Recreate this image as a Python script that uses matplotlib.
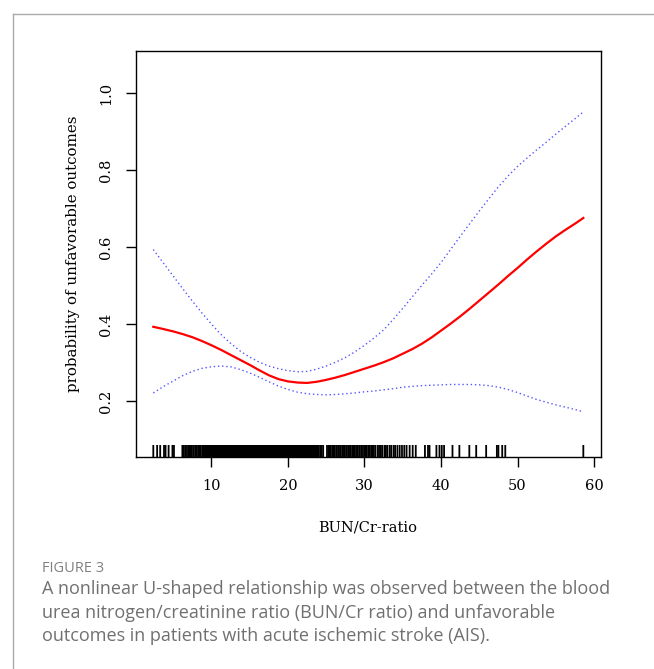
import numpy as np
import matplotlib
matplotlib.use("Agg")
import matplotlib.pyplot as plt

# ---------------------------------------------------------
# Data
# ---------------------------------------------------------
bun_cr = [2.4, 3.75, 5.0, 6.25, 7.5, 8.75, 10.0, 11.25, 12.5, 13.75, 15.0,
          16.25, 17.5, 18.75, 20.0, 21.25, 22.5, 23.75, 25.0, 26.25, 27.5,
          28.75, 30.0, 31.25, 32.5, 33.75, 35.0, 36.25, 37.5, 38.75, 40.0,
          41.25, 42.5, 43.75, 45.0, 46.25, 47.5, 48.75, 50.0, 51.25, 52.5,
          53.75, 55.0, 56.25, 57.5, 58.6]
prob_fit = [0.393, 0.387, 0.381, 0.374, 0.366, 0.356, 0.345, 0.333, 0.320,
            0.307, 0.294, 0.280, 0.267, 0.257, 0.251, 0.248, 0.247, 0.250,
            0.255, 0.261, 0.268, 0.276, 0.284, 0.292, 0.301, 0.311, 0.323,
            0.335, 0.349, 0.365, 0.383, 0.401, 0.420, 0.440, 0.461, 0.482,
            0.503, 0.525, 0.546, 0.568, 0.589, 0.609, 0.628, 0.645, 0.661,
            0.676]
ci_upper = [0.594, 0.558, 0.525, 0.492, 0.460, 0.429, 0.400, 0.373, 0.350,
            0.330, 0.314, 0.301, 0.291, 0.284, 0.279, 0.276, 0.277, 0.283,
            0.291, 0.301, 0.313, 0.328, 0.345, 0.364, 0.385, 0.412, 0.441,
            0.471, 0.501, 0.530, 0.560, 0.594, 0.628, 0.661, 0.694, 0.726,
            0.757, 0.785, 0.810, 0.832, 0.853, 0.873, 0.894, 0.914, 0.934,
            0.952]
ci_lower = [0.221, 0.238, 0.252, 0.266, 0.277, 0.285, 0.289, 0.291, 0.289,
            0.282, 0.273, 0.262, 0.250, 0.239, 0.230, 0.223, 0.219, 0.217,
            0.216, 0.217, 0.219, 0.221, 0.224, 0.226, 0.229, 0.232, 0.236,
            0.238, 0.240, 0.241, 0.242, 0.243, 0.243, 0.243, 0.242, 0.240,
            0.236, 0.230, 0.222, 0.213, 0.204, 0.197, 0.190, 0.184, 0.178,
            0.172]

# rug of observed BUN/Cr values
rug_left = [2.4, 2.9, 3.3, 3.8, 4.0, 4.4, 4.9, 5.1,
            6.2, 6.4, 6.6, 6.8, 7.0, 7.1, 7.3, 7.4, 7.6, 7.7, 7.9, 8.0,
            8.1, 8.3, 8.4, 8.5, 8.6, 8.8, 8.9, 9.0, 9.1, 9.2, 9.3, 9.4,
            9.5, 9.6, 9.7, 9.8, 9.9]
rug_dense = [
    10.0, 10.1, 10.2, 10.3, 10.4, 10.5, 10.6, 10.7, 10.8, 10.9,
    11.0, 11.1, 11.2, 11.3, 11.4, 11.5, 11.6, 11.7, 11.8, 11.9,
    12.0, 12.1, 12.2, 12.3, 12.4, 12.5, 12.6, 12.7, 12.8, 12.9,
    13.0, 13.1, 13.2, 13.3, 13.4, 13.5, 13.6, 13.7, 13.8, 13.9,
    14.0, 14.1, 14.2, 14.3, 14.4, 14.5, 14.6, 14.7, 14.8, 14.9,
    15.0, 15.1, 15.2, 15.3, 15.4, 15.5, 15.6, 15.7, 15.8, 15.9,
    16.0, 16.1, 16.2, 16.3, 16.4, 16.5, 16.6, 16.7, 16.8, 16.9,
    17.0, 17.1, 17.2, 17.3, 17.4, 17.5, 17.6, 17.7, 17.8, 17.9,
    18.0, 18.1, 18.2, 18.3, 18.4, 18.5, 18.6, 18.7, 18.8, 18.9,
    19.0, 19.1, 19.2, 19.3, 19.4, 19.5, 19.6, 19.7, 19.8, 19.9,
    20.0, 20.1, 20.2, 20.3, 20.4, 20.5, 20.6, 20.7, 20.8, 20.9,
    21.0, 21.1, 21.2, 21.3, 21.4, 21.5, 21.6, 21.7, 21.8, 21.9,
    22.0, 22.1, 22.2, 22.3, 22.4, 22.5, 22.6, 22.7, 22.8, 22.9,
    23.0, 23.1, 23.2, 23.3, 23.4, 23.5, 23.6, 23.7, 23.8, 23.9,
    24.0, 24.2, 24.4,
]
rug_mid = [24.6, 25.1, 25.3, 25.4, 25.6, 25.8, 25.9,
           26.1, 26.3, 26.4, 26.6, 26.8, 26.9, 27.1, 27.2, 27.4, 27.6,
           27.7, 27.9, 28.1, 28.2, 28.4, 28.6, 28.7, 28.9, 29.1, 29.3,
           29.4, 29.6, 29.8, 30.0, 30.1, 30.3, 30.5, 30.7, 30.9, 31.0,
           31.2, 31.4, 31.7, 31.9, 32.1, 32.3, 32.6, 32.8, 33.0, 33.3,
           33.5, 33.8, 34.0, 34.3, 34.6, 34.9, 35.2, 35.5, 35.9, 36.3, 36.7]
rug_right = [37.9, 38.3, 38.5, 39.4, 39.8, 40.1, 40.4, 41.5, 42.4, 43.7,
             44.6, 45.9, 47.3, 47.5, 48.0, 48.4, 58.6]

x_ticks = [10, 20, 30, 40, 50, 60]
y_ticks = [0.2, 0.4, 0.6, 0.8, 1.0]

caption_head = "FIGURE 3"
caption_body = ("A nonlinear U-shaped relationship was observed between the blood\n"
                "urea nitrogen/creatinine ratio (BUN/Cr ratio) and unfavorable\n"
                "outcomes in patients with acute ischemic stroke (AIS).")

# ---------------------------------------------------------
# Figure
# ---------------------------------------------------------
fig = plt.figure(figsize=(6.54, 6.69), dpi=100)
ax = fig.add_axes([0.2075, 0.3169, 0.711, 0.6073])

ax.plot(bun_cr, prob_fit, color="red", lw=1.6)
ax.plot(bun_cr, ci_upper, color="#5555ff", lw=1.0, ls=(0, (1, 2)))
ax.plot(bun_cr, ci_lower, color="#5555ff", lw=1.0, ls=(0, (1, 2)))

rug = rug_left + rug_dense + rug_mid + rug_right
ax.vlines(rug, 0.0544, 0.0544 + 12 / 384.6, color="black", lw=1.3, snap=False)

ax.set_xlim(0.1, 60.87)
ax.set_ylim(0.0544, 1.111)
ax.set_xticks(x_ticks)
ax.set_yticks(y_ticks)
ax.set_yticklabels([f"{v:.1f}" for v in y_ticks], rotation=90, va="center")

serif = "DejaVu Serif"
for lab in ax.get_xticklabels() + ax.get_yticklabels():
    lab.set_fontfamily(serif)
    lab.set_fontsize(10.5)
ax.tick_params(direction="out", length=7, width=1.0, pad=9)
ax.set_xlabel("BUN/Cr-ratio", fontfamily=serif, fontsize=10.5, labelpad=20)
ax.set_ylabel("probability of unfavorable outcomes", fontfamily=serif,
              fontsize=10.8, labelpad=14)
for s in ax.spines.values():
    s.set_linewidth(1.0)

# page frame lines
fig.add_artist(plt.Line2D([13 / 654, 1], [1 - 14 / 669] * 2, color="#aaaaaa", lw=1.0))
fig.add_artist(plt.Line2D([13 / 654] * 2, [0, 1 - 14 / 669], color="#aaaaaa", lw=1.0))

fig.text(42 / 654, 1 - 568 / 669, caption_head, fontfamily="Open Sans",
         fontsize=10.5, color="#808080", va="center")
fig.text(42 / 654, 1 - 580 / 669, caption_body, fontfamily="Open Sans",
         fontsize=13, color="#707070", va="top", linespacing=1.4)

plt.savefig("out.png", dpi=100)
